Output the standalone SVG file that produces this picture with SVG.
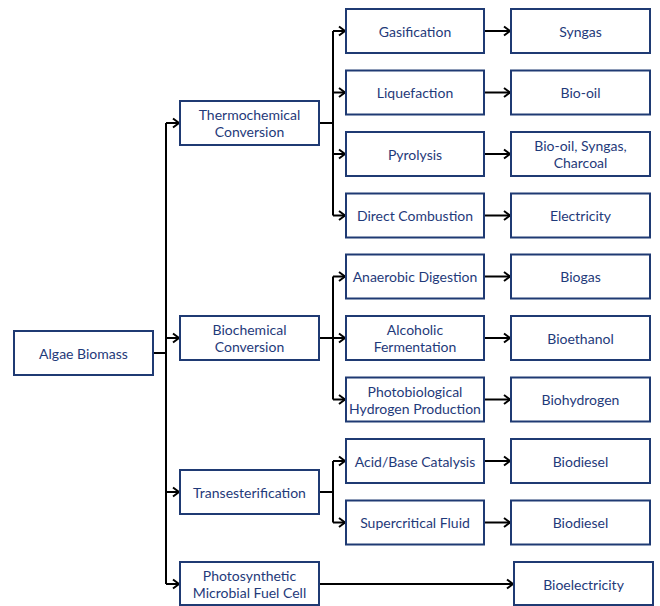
<svg xmlns="http://www.w3.org/2000/svg" width="660" height="606" viewBox="0 0 660 606">
<style>
.box{fill:#fff;stroke:#1f3a73;stroke-width:2}
.t{font-family:Lato,"Open Sans","Liberation Sans",sans-serif;font-size:14px;fill:#1f3a7a;text-anchor:middle;dominant-baseline:central}
.c{fill:none;stroke:#000;stroke-width:2}
</style>
<defs>
<marker id="ah" markerUnits="userSpaceOnUse" markerWidth="12" markerHeight="12" refX="7" refY="6" orient="auto">
<path d="M1,1.5 L7,6 L1,10.5" fill="none" stroke="#000" stroke-width="2"/>
</marker>
</defs>
<rect width="660" height="606" fill="#fff"/>
<g id="connectors">
<path class="c" d="M153,353 H166 M166,123 V584"/>
<path class="c" d="M166,123 H179" marker-end="url(#ah)"/>
<path class="c" d="M166,338 H179" marker-end="url(#ah)"/>
<path class="c" d="M166,492 H179" marker-end="url(#ah)"/>
<path class="c" d="M166,584 H179" marker-end="url(#ah)"/>
<path class="c" d="M319,123 H333 M333,31 V215.5"/>
<path class="c" d="M333,31 H345" marker-end="url(#ah)"/>
<path class="c" d="M333,92.5 H345" marker-end="url(#ah)"/>
<path class="c" d="M333,154 H345" marker-end="url(#ah)"/>
<path class="c" d="M333,215.5 H345" marker-end="url(#ah)"/>
<path class="c" d="M319,338 H333 M333,276.5 V399.5"/>
<path class="c" d="M333,276.5 H345" marker-end="url(#ah)"/>
<path class="c" d="M333,338 H345" marker-end="url(#ah)"/>
<path class="c" d="M333,399.5 H345" marker-end="url(#ah)"/>
<path class="c" d="M319,492 H333 M333,461 V522.5"/>
<path class="c" d="M333,461 H345" marker-end="url(#ah)"/>
<path class="c" d="M333,522.5 H345" marker-end="url(#ah)"/>
<path class="c" d="M484,31 H510" marker-end="url(#ah)"/>
<path class="c" d="M484,92.5 H510" marker-end="url(#ah)"/>
<path class="c" d="M484,154 H510" marker-end="url(#ah)"/>
<path class="c" d="M484,215.5 H510" marker-end="url(#ah)"/>
<path class="c" d="M484,276.5 H510" marker-end="url(#ah)"/>
<path class="c" d="M484,338 H510" marker-end="url(#ah)"/>
<path class="c" d="M484,399.5 H510" marker-end="url(#ah)"/>
<path class="c" d="M484,461 H510" marker-end="url(#ah)"/>
<path class="c" d="M484,522.5 H510" marker-end="url(#ah)"/>
<path class="c" d="M319,584 H513" marker-end="url(#ah)"/>
</g>
<g id="algae"><rect class="box" x="14" y="331" width="139" height="44"/><text class="t" x="83.5" y="353">Algae Biomass</text></g>
<g id="thermo"><rect class="box" x="180" y="101" width="139" height="44"/><text class="t" x="249.5" y="114.5">Thermochemical</text><text class="t" x="249.5" y="131.5">Conversion</text></g>
<g id="biochem"><rect class="box" x="180" y="316" width="139" height="44"/><text class="t" x="249.5" y="329.5">Biochemical</text><text class="t" x="249.5" y="346.5">Conversion</text></g>
<g id="trans"><rect class="box" x="180" y="470" width="139" height="44"/><text class="t" x="249.5" y="492">Transesterification</text></g>
<g id="pmfc"><rect class="box" x="180" y="562" width="139" height="43"/><text class="t" x="249.5" y="575">Photosynthetic</text><text class="t" x="249.5" y="592.5">Microbial Fuel Cell</text></g>
<g id="gasification"><rect class="box" x="346" y="9" width="138" height="44"/><text class="t" x="415" y="31">Gasification</text></g>
<g id="liquefaction"><rect class="box" x="346" y="70.5" width="138" height="44"/><text class="t" x="415" y="92.5">Liquefaction</text></g>
<g id="pyrolysis"><rect class="box" x="346" y="132" width="138" height="44"/><text class="t" x="415" y="154">Pyrolysis</text></g>
<g id="combustion"><rect class="box" x="346" y="193.5" width="138" height="44"/><text class="t" x="415" y="215.5">Direct Combustion</text></g>
<g id="anaerobic"><rect class="box" x="346" y="254.5" width="138" height="44"/><text class="t" x="415" y="276.5">Anaerobic Digestion</text></g>
<g id="alcoholic"><rect class="box" x="346" y="316" width="138" height="44"/><text class="t" x="415" y="329.5">Alcoholic</text><text class="t" x="415" y="346.5">Fermentation</text></g>
<g id="photobio"><rect class="box" x="346" y="377.5" width="138" height="44"/><text class="t" x="415" y="391">Photobiological</text><text class="t" x="415" y="408">Hydrogen Production</text></g>
<g id="acidbase"><rect class="box" x="346" y="439" width="138" height="44"/><text class="t" x="415" y="461">Acid/Base Catalysis</text></g>
<g id="supercritical"><rect class="box" x="346" y="500.5" width="138" height="44"/><text class="t" x="415" y="522.5">Supercritical Fluid</text></g>
<g id="syngas"><rect class="box" x="511" y="9" width="139" height="44"/><text class="t" x="580.5" y="31">Syngas</text></g>
<g id="biooil"><rect class="box" x="511" y="70.5" width="139" height="44"/><text class="t" x="580.5" y="92.5">Bio-oil</text></g>
<g id="mix"><rect class="box" x="511" y="132" width="139" height="44"/><text class="t" x="580.5" y="145.5">Bio-oil, Syngas,</text><text class="t" x="580.5" y="162.5">Charcoal</text></g>
<g id="electricity"><rect class="box" x="511" y="193.5" width="139" height="44"/><text class="t" x="580.5" y="215.5">Electricity</text></g>
<g id="biogas"><rect class="box" x="511" y="254.5" width="139" height="44"/><text class="t" x="580.5" y="276.5">Biogas</text></g>
<g id="bioethanol"><rect class="box" x="511" y="316" width="139" height="44"/><text class="t" x="580.5" y="338">Bioethanol</text></g>
<g id="biohydrogen"><rect class="box" x="511" y="377.5" width="139" height="44"/><text class="t" x="580.5" y="399.5">Biohydrogen</text></g>
<g id="biodiesel1"><rect class="box" x="511" y="439" width="139" height="44"/><text class="t" x="580.5" y="461">Biodiesel</text></g>
<g id="biodiesel2"><rect class="box" x="511" y="500.5" width="139" height="44"/><text class="t" x="580.5" y="522.5">Biodiesel</text></g>
<g id="bioelectricity"><rect class="box" x="514" y="562" width="139" height="43"/><text class="t" x="583.5" y="584">Bioelectricity</text></g>
</svg>
